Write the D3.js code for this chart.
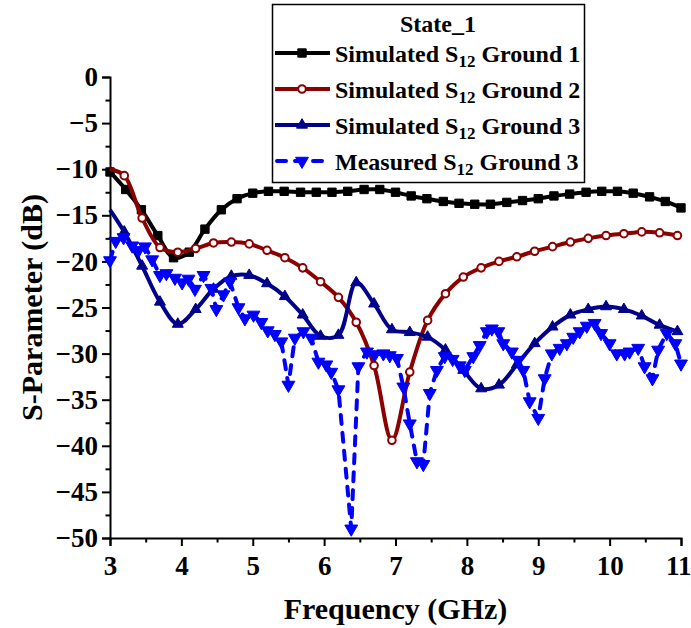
<!DOCTYPE html>
<html><head><meta charset="utf-8">
<script src="https://cdn.jsdelivr.net/npm/d3@7"></script>
<style>body{margin:0;background:#fff}svg{display:block}</style>
</head><body>
<script>
// ---------- DATA ----------
const freqG1 = [3,3.22,3.44,3.67,3.89,4.11,4.33,4.56,4.78,5,5.22,5.44,5.67,5.89,6.11,6.33,6.56,6.78,7,7.22,7.44,7.67,7.89,8.11,8.33,8.56,8.78,9,9.22,9.44,9.67,9.89,10.11,10.33,10.56,10.78,11];
const simG1 = [-10.3,-12.2,-14.4,-17.2,-19.6,-19.0,-16.5,-14.4,-13.2,-12.6,-12.4,-12.4,-12.5,-12.5,-12.5,-12.4,-12.2,-12.2,-12.5,-12.9,-13.2,-13.5,-13.7,-13.8,-13.8,-13.6,-13.4,-13.2,-12.9,-12.7,-12.5,-12.4,-12.4,-12.6,-13.0,-13.5,-14.2];

const freqG23 = [3,3.2,3.45,3.7,3.95,4.2,4.45,4.7,4.95,5.2,5.45,5.7,5.95,6.2,6.45,6.7,6.95,7.2,7.45,7.7,7.95,8.2,8.45,8.7,8.95,9.2,9.45,9.7,9.95,10.2,10.45,10.7,10.95];
const simG2 = [-10.0,-10.7,-15.3,-18.5,-19.0,-18.6,-18.0,-17.9,-18.1,-18.8,-19.6,-20.7,-22.2,-23.9,-26.6,-31.3,-39.4,-32.0,-26.4,-23.5,-21.7,-20.7,-20.0,-19.5,-18.9,-18.4,-17.9,-17.5,-17.2,-17.0,-16.8,-16.9,-17.2];
const simG3 = [-14.4,-16.8,-20.5,-24.4,-26.8,-25.2,-23.0,-21.6,-21.5,-22.4,-23.8,-25.8,-28.1,-28.0,-22.3,-24.6,-27.4,-27.7,-28.2,-29.6,-31.8,-33.8,-33.4,-31.2,-28.9,-27.1,-25.8,-25.2,-24.9,-25.2,-25.9,-26.9,-27.6];

const freqMeas = [3.00,3.08,3.19,3.31,3.40,3.49,3.59,3.70,3.79,3.91,4.01,4.10,4.19,4.31,4.42,4.49,4.59,4.68,4.80,4.89,5.01,5.12,5.21,5.31,5.40,5.50,5.59,5.71,5.82,5.92,6.03,6.10,6.20,6.38,6.48,6.60,6.71,6.83,6.92,7.02,7.11,7.20,7.30,7.39,7.48,7.58,7.69,7.80,7.90,7.97,8.09,8.18,8.28,8.35,8.44,8.51,8.63,8.72,8.79,8.88,9.00,9.09,9.19,9.30,9.40,9.49,9.58,9.68,9.79,9.88,10.00,10.10,10.21,10.28,10.40,10.49,10.60,10.68,10.80,10.92,11.00];
const measG3 = [-19.9,-17.8,-17.4,-18.3,-18.8,-18.4,-19.8,-21.5,-21.3,-21.8,-22.3,-21.9,-23.0,-21.5,-22.9,-25.2,-23.6,-22.2,-25.0,-26.2,-25.8,-26.6,-27.5,-27.9,-28.7,-33.4,-28.3,-27.6,-28.3,-30.9,-31.2,-32.0,-33.9,-49.0,-31.4,-29.8,-30.1,-30.0,-30.2,-30.5,-33.6,-37.6,-41.7,-42.0,-34.3,-31.8,-30.3,-30.6,-31.3,-31.8,-30.3,-29.1,-27.6,-27.3,-27.6,-28.9,-29.8,-30.7,-31.8,-35.2,-37.0,-32.7,-30.0,-29.4,-28.9,-28.2,-27.6,-27.0,-26.7,-27.8,-28.9,-30.0,-30.0,-29.8,-29.4,-31.4,-32.7,-29.6,-27.8,-28.9,-31.1];

const xTicks = [3,4,5,6,7,8,9,10,11];
const yTicks = [0,-5,-10,-15,-20,-25,-30,-35,-40,-45,-50];
const legendTitle = "State_1";
const legendNames = ["Simulated S|12| Ground 1","Simulated S|12| Ground 2","Simulated S|12| Ground 3","Measured S|12| Ground 3"];
const xTitle = "Frequency (GHz)";
const yTitle = "S-Parameter (dB)";

// ---------- CHART ----------
const W = 691, H = 628;
const svg = d3.select("body").append("svg").attr("width", W).attr("height", H);
const FONT = "'Liberation Serif','Times New Roman',serif";

const x = d3.scaleLinear([3, 11], [110, 681]);
const y = d3.scaleLinear([-50, 0], [538, 77]);

const series = [
  {name: legendNames[0], f: freqG1, v: simG1, color: "#000000", dash: null, sym: d3.symbolSquare, size: 70, fill: "#000000", rot: 0, skipFirst: false, curve: d3.curveCatmullRom},
  {name: legendNames[1], f: freqG23, v: simG2, color: "#8B0000", dash: null, sym: d3.symbolCircle, size: 45, fill: "#ffffff", rot: 0, skipFirst: true, curve: d3.curveCatmullRom},
  {name: legendNames[2], f: freqG23, v: simG3, color: "#00008B", dash: null, sym: d3.symbolTriangle, size: 52, fill: "#00008B", rot: 0, skipFirst: true, curve: d3.curveCatmullRom},
  {name: legendNames[3], f: freqMeas, v: measG3, color: "#0000FF", dash: "9,9", sym: d3.symbolTriangle, size: 72, fill: "#0000FF", rot: 180, skipFirst: false, curve: d3.curveLinear}
];

// axes
const axisG = svg.append("g");
axisG.append("g").attr("transform", `translate(${x(3)},0)`)
  .call(d3.axisLeft(y).tickValues(yTicks).tickSize(8).tickPadding(4).tickFormat(d3.format("d")));
axisG.append("g").attr("transform", `translate(${x(3)},0)`)
  .call(d3.axisLeft(y).tickValues(d3.range(-47.5, 0, 5)).tickSize(4.5).tickFormat(""))
  .select(".domain").remove();
const xAx = axisG.append("g").attr("transform", `translate(0,${y(-50)})`)
  .call(d3.axisBottom(x).tickValues(xTicks).tickSize(8).tickPadding(10).tickFormat(d3.format("d")));
axisG.append("g").attr("transform", `translate(0,${y(-50)})`)
  .call(d3.axisBottom(x).tickValues(d3.range(3.5, 11, 1)).tickSize(4.5).tickFormat(""))
  .select(".domain").remove();
axisG.selectAll(".domain").attr("stroke", "#000").attr("stroke-width", 2);
axisG.selectAll(".tick line").attr("stroke", "#000").attr("stroke-width", 2);
axisG.selectAll(".tick text").attr("font-family", FONT).attr("font-weight", "bold")
  .attr("font-size", 27).attr("fill", "#000");
// keep the last x label inside the canvas, as in the reference
xAx.selectAll(".tick text").filter(d => d === 11).attr("text-anchor", "end").attr("dx", 10);

svg.append("text").attr("x", (x(3) + x(11)) / 2).attr("y", 619)
  .attr("text-anchor", "middle").attr("font-family", FONT).attr("font-weight", "bold")
  .attr("font-size", 30).text(xTitle);
svg.append("text").attr("transform", `translate(42,${(y(0) + y(-50)) / 2}) rotate(-90)`)
  .attr("text-anchor", "middle").attr("font-family", FONT).attr("font-weight", "bold")
  .attr("font-size", 30).text(yTitle);

// series
const plot = svg.append("g");
series.forEach(s => {
  const pts = s.f.map((f, i) => [f, s.v[i]]);
  const line = d3.line().x(d => x(d[0])).y(d => y(d[1])).curve(s.curve);
  plot.append("path").attr("d", line(pts)).attr("fill", "none")
    .attr("stroke", s.color).attr("stroke-width", 4)
    .attr("stroke-linecap", s.dash ? "round" : "butt")
    .attr("stroke-linejoin", "round")
    .attr("stroke-dasharray", s.dash);
  const mpts = s.skipFirst ? pts.slice(1) : pts;
  plot.selectAll(null).data(mpts).join("path")
    .attr("d", d3.symbol(s.sym, s.size)())
    .attr("transform", d => `translate(${x(d[0])},${y(d[1])}) rotate(${s.rot})`)
    .attr("fill", s.fill).attr("stroke", s.color)
    .attr("stroke-width", s.fill === "#ffffff" ? 2 : 1);
});

// legend
const lg = svg.append("g");
lg.append("rect").attr("x", 272.5).attr("y", 4.5).attr("width", 312).attr("height", 178)
  .attr("fill", "#fff").attr("stroke", "#000").attr("stroke-width", 1.5);
lg.append("text").attr("x", 438).attr("y", 32).attr("text-anchor", "middle")
  .attr("font-family", FONT).attr("font-weight", "bold").attr("font-size", 24).text(legendTitle);
const rowY = [53, 89, 125, 161];
series.forEach((s, i) => {
  const yy = rowY[i];
  lg.append("line").attr("x1", 275).attr("x2", 330).attr("y1", yy).attr("y2", yy)
    .attr("stroke", s.color).attr("stroke-width", 4)
    .attr("stroke-linecap", s.dash ? "round" : "butt")
    .attr("stroke-dasharray", s.dash ? "9,9" : null)
    .attr("stroke-dashoffset", s.dash ? -2 : null);
  lg.append("path").attr("d", d3.symbol(s.sym, s.size)())
    .attr("transform", `translate(302,${yy}) rotate(${s.rot})`)
    .attr("fill", s.fill).attr("stroke", s.color).attr("stroke-width", s.fill === "#ffffff" ? 2 : 1);
  const parts = s.name.split("|");
  const t = lg.append("text").attr("x", 335).attr("y", yy + 9)
    .attr("font-family", FONT).attr("font-weight", "bold").attr("font-size", 24);
  t.append("tspan").text(parts[0]);
  t.append("tspan").attr("font-size", 17).attr("dy", 5).text(parts[1]);
  t.append("tspan").attr("dy", -5).text(parts[2]);
});
</script>
</body></html>
